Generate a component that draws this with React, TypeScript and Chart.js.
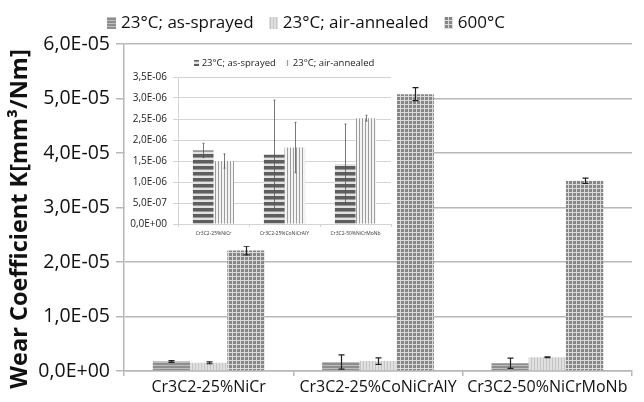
import React, { useEffect, useRef } from 'react';
import { Chart, registerables } from 'chart.js';

Chart.register(...registerables);

const categories = ['Cr3C2-25%NiCr', 'Cr3C2-25%CoNiCrAlY', 'Cr3C2-50%NiCrMoNb'];
const seriesLabels = ['23°C; as-sprayed', '23°C; air-annealed', '600°C'];
const asSprayed = [1.75e-6, 1.65e-6, 1.43e-6];
const asSprayedErr = [0.17e-6, 1.3e-6, 0.95e-6];
const airAnnealed = [1.5e-6, 1.82e-6, 2.52e-6];
const airAnnealedErr = [0.17e-6, 0.6e-6, 0.07e-6];
const hot600 = [2.21e-5, 5.08e-5, 3.49e-5];
const hot600Err = [0.08e-5, 0.12e-5, 0.05e-5];
const mainMax = 6e-5;
const mainStep = 1e-5;
const insetMax = 3.5e-6;
const insetStep = 0.5e-6;
const yTitle = 'Wear Coefficient K[mm³/Nm]';

const FONT = '"Open Sans", "Noto Sans", sans-serif';

function sci(v: number): string {
  const [m, e] = Number(v).toExponential(1).split('e');
  const n = parseInt(e, 10);
  const sign = n < 0 ? '-' : '+';
  return m.replace('.', ',') + 'E' + sign + String(Math.abs(n)).padStart(2, '0');
}

function makePattern(w: number, h: number, draw: (c: CanvasRenderingContext2D) => void): CanvasPattern {
  const c = document.createElement('canvas');
  c.width = w;
  c.height = h;
  const g = c.getContext('2d')!;
  draw(g);
  const ctx = document.createElement('canvas').getContext('2d')!;
  return ctx.createPattern(c, 'repeat')!;
}

const errorBarPlugin = {
  id: 'errorBars',
  afterDatasetsDraw(chart: any, _args: any, opts: any) {
    const ctx = chart.ctx;
    const y = chart.scales.y;
    ctx.save();
    ctx.strokeStyle = opts.color;
    ctx.lineWidth = opts.width;
    chart.data.datasets.forEach((ds: any, i: number) => {
      const errs = ds.errors;
      if (!errs) return;
      const meta = chart.getDatasetMeta(i);
      meta.data.forEach((bar: any, j: number) => {
        const v = ds.data[j];
        const e = errs[j];
        const yt = y.getPixelForValue(v + e);
        const yb = y.getPixelForValue(Math.max(0, v - e));
        const x = Math.round(bar.x) + 0.5;
        ctx.beginPath();
        ctx.moveTo(x, yt);
        ctx.lineTo(x, yb);
        ctx.moveTo(x - opts.cap, yt);
        ctx.lineTo(x + opts.cap, yt);
        ctx.moveTo(x - opts.cap, yb);
        ctx.lineTo(x + opts.cap, yb);
        ctx.stroke();
      });
    });
    ctx.restore();
  },
};

const legendPlugin = {
  id: 'sketchLegend',
  afterDraw(chart: any, _args: any, o: any) {
    const ctx = chart.ctx;
    ctx.save();
    ctx.font = `${o.size}px ${FONT}`;
    ctx.textBaseline = 'middle';
    const dsets = chart.data.datasets;
    let total = 0;
    dsets.forEach((ds: any, i: number) => {
      total += o.boxW + o.boxGap + ctx.measureText(ds.label).width;
      if (i < dsets.length - 1) total += o.itemGap;
    });
    let x = o.centerX - total / 2;
    dsets.forEach((ds: any) => {
      ctx.fillStyle = ds.backgroundColor;
      ctx.fillRect(Math.round(x), Math.round(o.y - o.boxH / 2), o.boxW, o.boxH);
      x += o.boxW + o.boxGap;
      ctx.fillStyle = o.color;
      ctx.fillText(ds.label, x, o.y);
      x += ctx.measureText(ds.label).width + o.itemGap;
    });
    ctx.restore();
  },
};

const axisTitlePlugin = {
  id: 'axisTitle',
  afterDraw(chart: any, _args: any, o: any) {
    if (!o || !o.text) return;
    const ctx = chart.ctx;
    ctx.save();
    ctx.translate(o.x, o.y);
    ctx.rotate(-Math.PI / 2);
    ctx.font = `bold ${o.size}px ${FONT}`;
    ctx.fillStyle = o.color;
    ctx.textAlign = 'center';
    ctx.textBaseline = 'middle';
    ctx.fillText(o.text, 0, 0);
    ctx.restore();
  },
};

export default function App() {
  const mainRef = useRef<HTMLCanvasElement>(null);
  const insetRef = useRef<HTMLCanvasElement>(null);

  useEffect(() => {
    const pAsMain = makePattern(4, 3, (g) => {
      g.fillStyle = '#8e8e8e';
      g.fillRect(0, 0, 4, 2);
      g.fillStyle = '#bdbdbd';
      g.fillRect(0, 2, 4, 1);
    });
    const pAirMain = makePattern(3, 4, (g) => {
      g.fillStyle = '#e0e0e0';
      g.fillRect(0, 0, 3, 4);
      g.fillStyle = '#c4c4c4';
      g.fillRect(0, 0, 1, 4);
    });
    const pHot = makePattern(4, 4, (g) => {
      g.fillStyle = '#dadada';
      g.fillRect(0, 0, 4, 4);
      g.fillStyle = '#868686';
      g.fillRect(1, 1, 3, 3);
    });
    const pAsInset = makePattern(4, 6, (g) => {
      g.fillStyle = '#e2e2e2';
      g.fillRect(0, 0, 4, 6);
      g.fillStyle = '#5e5e5e';
      g.fillRect(0, 0, 4, 3);
      g.fillStyle = '#9a9a9a';
      g.fillRect(0, 3, 4, 1);
    });
    const pAirInset = makePattern(3, 4, (g) => {
      g.fillStyle = '#f4f4f4';
      g.fillRect(0, 0, 3, 4);
      g.fillStyle = '#9c9c9c';
      g.fillRect(0, 0, 1, 4);
    });

    const gridCol = '#b8b8b8';
    const main = new Chart(mainRef.current!, {
      type: 'bar',
      data: {
        labels: categories,
        datasets: [
          { label: seriesLabels[0], data: asSprayed, errors: asSprayedErr, backgroundColor: pAsMain } as any,
          { label: seriesLabels[1], data: airAnnealed, errors: airAnnealedErr, backgroundColor: pAirMain } as any,
          { label: seriesLabels[2], data: hot600, errors: hot600Err, backgroundColor: pHot } as any,
        ],
      },
      options: {
        responsive: false,
        animation: false,
        layout: { padding: { top: 44, right: 12, left: 0, bottom: 0 } },
        datasets: { bar: { categoryPercentage: 0.66, barPercentage: 1 } },
        plugins: {
          legend: { display: false },
          tooltip: { enabled: false },
          errorBars: { color: '#222', width: 1.2, cap: 3 },
          sketchLegend: { centerX: 306, y: 23, size: 17, boxW: 9, boxH: 12, boxGap: 5, itemGap: 15, color: '#111' },
          axisTitle: { text: yTitle, x: 20, y: 219, size: 23.5, color: '#111' },
        } as any,
        scales: {
          x: {
            grid: { display: true, drawOnChartArea: false, offset: true, tickLength: 5, color: gridCol, lineWidth: 1.5 },
            border: { color: gridCol, width: 1.5 },
            ticks: { font: { family: FONT, size: 16 }, color: '#111', padding: 2, maxRotation: 0, autoSkip: false },
            afterFit: (s: any) => { s.height = 31; },
          },
          y: {
            min: 0,
            max: mainMax,
            ticks: { stepSize: mainStep, callback: (v: any) => sci(Number(v)), font: { family: FONT, size: 19.5 }, color: '#111', padding: 6 },
            grid: { color: gridCol, lineWidth: 1.5, tickLength: 8 },
            border: { color: gridCol, width: 1.5 },
            afterFit: (s: any) => { s.width = 124; },
          },
        },
      } as any,
      plugins: [errorBarPlugin, legendPlugin, axisTitlePlugin],
    });

    const insetGrid = '#d4d4d4';
    const inset = new Chart(insetRef.current!, {
      type: 'bar',
      data: {
        labels: categories,
        datasets: [
          { label: seriesLabels[0], data: asSprayed, errors: asSprayedErr, backgroundColor: pAsInset } as any,
          { label: seriesLabels[1], data: airAnnealed, errors: airAnnealedErr, backgroundColor: pAirInset } as any,
        ],
      },
      options: {
        responsive: false,
        animation: false,
        layout: { padding: { top: 31, right: 6, left: 0, bottom: 0 } },
        datasets: { bar: { categoryPercentage: 0.58, barPercentage: 1 } },
        plugins: {
          legend: { display: false },
          tooltip: { enabled: false },
          errorBars: { color: '#555', width: 0.8, cap: 1 },
          sketchLegend: { centerX: 159, y: 17, size: 9.5, boxW: 5, boxH: 6, boxGap: 3, itemGap: 9, color: '#222' },
        } as any,
        scales: {
          x: {
            grid: { display: true, drawOnChartArea: false, offset: true, tickLength: 3, color: insetGrid, lineWidth: 1 },
            border: { color: insetGrid, width: 1 },
            ticks: { font: { family: FONT, size: 5 }, color: '#333', padding: 4, maxRotation: 0, autoSkip: false },
            afterFit: (s: any) => { s.height = 22; },
          },
          y: {
            min: 0,
            max: insetMax,
            ticks: { stepSize: insetStep, callback: (v: any) => sci(Number(v)), font: { family: FONT, size: 10 }, color: '#222', padding: 6 },
            grid: { color: insetGrid, lineWidth: 1, tickLength: 5 },
            border: { color: insetGrid, width: 1 },
            afterFit: (s: any) => { s.width = 53; },
          },
        },
      } as any,
      plugins: [errorBarPlugin, legendPlugin],
    });

    return () => {
      main.destroy();
      inset.destroy();
    };
  }, []);

  return (
    <div style={{ position: 'fixed', left: 0, top: 0, width: 644, height: 402, background: '#fff' }}>
      <canvas ref={mainRef} width={644} height={402} style={{ position: 'absolute', left: 0, top: 0 }} />
      <canvas
        ref={insetRef}
        width={272}
        height={200}
        style={{ position: 'absolute', left: 125, top: 46, background: '#fff' }}
      />
    </div>
  );
}
